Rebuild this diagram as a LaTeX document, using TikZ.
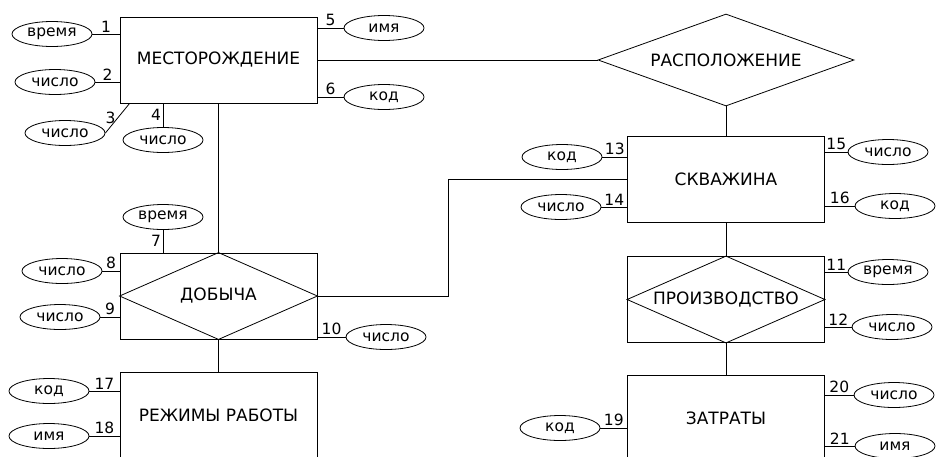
\documentclass[tikz,border=0pt]{standalone}
\usepackage{fontspec}
\setmainfont{DejaVu Sans}
\usepackage{tikz}
\usetikzlibrary{calc,shapes.geometric}

\tikzset{
	ent/.style={rectangle, draw, minimum width=197pt, minimum height=86pt,
		inner sep=0pt, font=\fontsize{17}{20}\selectfont},
	rel/.style={diamond, draw, aspect=2.78, minimum width=256pt,
		minimum height=92pt, inner sep=0pt, font=\fontsize{17}{20}\selectfont},
	attr/.style={ellipse, draw, minimum width=80pt, minimum height=25pt,
		inner sep=0pt, font=\fontsize{15.5}{18}\selectfont},
	num/.style={inner sep=1.5pt, font=\fontsize{15.5}{18}\selectfont}
}

\begin{document}
\begin{tikzpicture}[x=1pt, y=-1pt, line width=0.8pt]
		
		% --- 1. рамка рисунка ---
		\useasboundingbox (0,0) rectangle (936,456);
		\clip (0,0) rectangle (936,456);
		
		% --- 2. сущности ---
		\node[ent] (mest) at (218.5, 60) {МЕСТОРОЖДЕНИЕ};
		\node[ent] (skv) at (726, 179) {СКВАЖИНА};
		\node[ent] (rezh) at (218.5, 415) {РЕЖИМЫ РАБОТЫ};
		\node[ent] (zatr) at (726, 418) {ЗАТРАТЫ};
		
		% --- 3. связи ---
		\node[rel] (rasp) at (726, 60) {РАСПОЛОЖЕНИЕ};
		% связи-сущности: ромб внутри прямоугольника
		\node[ent] (dob) at (218.5, 296) {ДОБЫЧА};
		\node[ent] (proizv) at (726, 299.5) {ПРОИЗВОДСТВО};
		\foreach \r in {dob,proizv} {
			\draw (\r.north) -- (\r.east) -- (\r.south) -- (\r.west) -- cycle;
		}
		
		% --- 4. линии между сущностями и связями ---
		\draw (mest) -- (rasp);
		\draw (rasp) -- (skv);
		\draw (mest) -- (dob);
		\draw (dob) -- (rezh);
		\draw (skv) -- (proizv);
		\draw (proizv) -- (zatr);
		\draw (dob.east) -- ++(131,0) |- (skv.west);
		
		% --- 5. атрибуты ---
		\foreach \nm/\x/\y/\t/\ent/\side/\num in {
			a1/52/34/время/mest/west/1,
			a2/55/82/число/mest/west/2,
			a5/384/28/имя/mest/east/5,
			a6/384/97/код/mest/east/6,
			a8/62/271/число/dob/west/8,
			a9/60/317/число/dob/west/9,
			a10/386/337/число/dob/east/10,
			a11/888/272/время/proizv/east/11,
			a12/892/327/число/proizv/east/12,
			a13/562/157/код/skv/west/13,
			a14/561/207/число/skv/west/14,
			a15/888/152/число/skv/east/15,
			a16/895/206/код/skv/east/16,
			a17/49/391/код/rezh/west/17,
			a18/49/436/имя/rezh/west/18,
			a19/560/428/код/zatr/west/19,
			a20/894/395/число/zatr/east/20,
			a21/895/446/имя/zatr/east/21} {
			\node[attr] (\nm) at (\x,\y) {\t};
			\draw (\nm) -- node[num, above] {\num} (\nm -| \ent.\side);
		}
		
		% атрибуты снизу и сверху
		\node[attr] (a3) at (65,133) {число};
		\draw (a3.east) -- node[num, left] {3} ($(mest.south west)+(10,0)$);
		\node[attr] (a4) at (163,140) {число};
		\draw (a4) -- node[num, left] {4} (a4 |- mest.south);
		\node[attr] (a7) at (163,217) {время};
		\draw (a7) -- node[num, left] {7} (a7 |- dob.north);
		
	\end{tikzpicture}
\end{document}
